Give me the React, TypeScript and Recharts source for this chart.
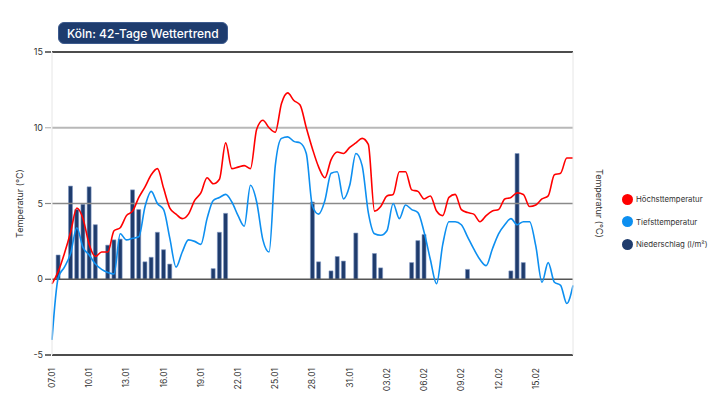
import { Bar, ComposedChart, Line, ReferenceLine, XAxis, YAxis } from "recharts"

// half-day slots, 07.01 00:00 .. 18.02 00:00
const tickSlots = [0, 6, 12, 18, 24, 30, 36, 42, 48, 54, 60, 66, 72, 78]
const tickDates = ["07.01", "10.01", "13.01", "16.01", "19.01", "22.01", "25.01", "28.01", "31.01", "03.02", "06.02", "09.02", "12.02", "15.02"]

const highTemp = [
  -0.3, 0.5, 1.7, 3.1, 4.7, 4.0, 2.3, 1.5, 1.8, 1.8,
  3.2, 3.4, 4.2, 4.5, 5.4, 6.1, 6.9, 7.3, 6.0, 4.7,
  4.3, 4.0, 4.3, 5.2, 5.7, 6.7, 6.3, 6.6, 9.0, 7.3,
  7.4, 7.5, 7.3, 9.9, 10.5, 10.0, 9.7, 11.6, 12.3, 11.8,
  11.5, 10.0, 8.6, 7.4, 6.7, 7.9, 8.4, 8.3, 8.7, 9.0,
  9.3, 8.9, 4.5, 4.8, 5.5, 5.6, 7.1, 7.1, 5.9, 5.8,
  5.3, 5.5, 4.5, 4.2, 5.4, 5.6, 4.6, 4.4, 4.3, 3.8,
  4.2, 4.5, 4.6, 5.3, 5.4, 5.7, 5.6, 4.8, 4.9, 5.3,
  5.5, 6.9, 7.0, 8.0, 8.0,
]

const lowTemp = [
  -4.0, 0.1, 0.8, 1.7, 3.4, 2.1, 1.6, 1.0, 0.65, 0.45,
  0.35, 3.0, 2.6, 2.7, 2.8, 4.8, 5.8, 5.0, 4.6, 2.7,
  0.8, 1.8, 2.6, 2.5, 2.3, 4.0, 5.2, 5.4, 5.6, 5.1,
  4.2, 3.5, 6.2, 5.1, 2.6, 1.8, 7.5, 9.3, 9.4, 9.1,
  9.0, 8.3, 4.8, 4.3, 5.2, 7.0, 7.1, 5.3, 6.2, 8.3,
  7.5, 4.4, 3.0, 2.9, 3.2, 5.0, 4.0, 4.9, 4.6, 4.4,
  3.1, 1.3, -0.3, 2.3, 3.8, 3.8, 3.6, 2.8, 2.0, 1.3,
  0.9, 2.0, 3.0, 3.6, 4.0, 3.6, 3.8, 3.8, 2.2, -0.2,
  1.1, -0.2, -0.4, -1.6, -0.4,
]

const rainSlots = [1, 3, 4, 5, 6, 7, 9, 10, 11, 13, 14, 15, 16, 17, 18, 19, 26, 27, 28, 42, 43, 45, 46, 47, 49, 52, 53, 58, 59, 60, 67, 74, 75, 76]
const rainAmounts = [1.6, 6.15, 4.6, 4.95, 6.1, 3.6, 2.25, 2.6, 2.65, 5.9, 4.6, 1.15, 1.45, 3.1, 1.95, 1.0, 0.7, 3.1, 4.35, 5.1, 1.15, 0.55, 1.5, 1.2, 3.05, 1.7, 0.75, 1.1, 2.55, 2.95, 0.65, 0.55, 8.3, 1.1]

const yTicks = [-5, 0, 5, 10, 15]

const data = highTemp.map((h, i) => {
  const r = rainSlots.indexOf(i)
  return { slot: i, high: h, low: lowTemp[i], rain: r >= 0 ? rainAmounts[r] : null }
})

const FONT = "Inter, 'DejaVu Sans', sans-serif"

const lineColor = (v: number) => {
  if (v === 10) return "#b8b8b8"
  if (v === 5) return "#8a8a8a"
  if (v === 0) return "#555"
  return "#111"
}

const YTick = ({ x, y, payload, side }: any) => {
  const v = payload.value
  const left = side === "left"
  const x0 = left ? x + 2 : x - 2
  const x1 = left ? x0 + 6 : x0 - 6
  return (
    <g>
      <line x1={x0} x2={x1} y1={y} y2={y} stroke={lineColor(v)} strokeWidth={1.2} />
      <text x={x} y={y} dy="0.35em" textAnchor={left ? "end" : "start"} fontSize={9} fill="#333" fontFamily={FONT}>
        {v}
      </text>
    </g>
  )
}

const XTick = ({ x, y, payload }: any) => {
  const idx = tickSlots.indexOf(payload.value)
  const ty = y + 5
  return (
    <text
      x={x}
      y={ty}
      dy="0.35em"
      textAnchor="end"
      transform={`rotate(-90, ${x}, ${ty})`}
      fontSize={8.5}
      fill="#333"
      fontFamily={FONT}
    >
      {tickDates[idx]}
    </text>
  )
}

const legendItems = [
  { label: "Höchsttemperatur", color: "#ff0000" },
  { label: "Tiefsttemperatur", color: "#0d8ff0" },
  { label: "Niederschlag (l/m²)", color: "#1f3c6d" },
]

export default function App() {
  return (
    <div
      style={{
        position: "absolute",
        left: 0,
        top: 0,
        width: 717,
        height: 403,
        overflow: "hidden",
        background: "#fff",
        fontFamily: FONT,
      }}
    >
      <ComposedChart width={717} height={403} data={data} margin={{ top: 52, right: 104, bottom: 0, left: 0 }}>
        <XAxis
          dataKey="slot"
          type="number"
          domain={[0, 84]}
          ticks={tickSlots}
          tick={<XTick />}
          tickLine={false}
          axisLine={{ stroke: "#111", strokeWidth: 1.5 }}
          height={48}
          interval={0}
        />
        <YAxis
          yAxisId="left"
          domain={[-5, 15]}
          ticks={yTicks}
          width={52}
          tickLine={false}
          tickSize={6}
          tickMargin={3}
          tick={<YTick side="left" />}
          axisLine={{ stroke: "#e6e6e6" }}
          label={{
            value: "Temperatur (°C)",
            angle: -90,
            position: "insideLeft",
            offset: 20,
            style: { textAnchor: "middle", fontSize: 9, fill: "#333", fontFamily: FONT },
          }}
        />
        <YAxis
          yAxisId="right"
          orientation="right"
          domain={[-5, 15]}
          ticks={yTicks}
          width={40}
          tickLine={false}
          tickSize={6}
          tickMargin={3}
          tick={<YTick side="right" />}
          axisLine={{ stroke: "#e6e6e6" }}
          label={{
            value: "Temperatur (°C)",
            angle: 90,
            position: "insideRight",
            offset: 14,
            style: { textAnchor: "middle", fontSize: 9, fill: "#333", fontFamily: FONT },
          }}
        />
        <ReferenceLine yAxisId="left" y={15} stroke="#111" strokeWidth={1.5} />
        <ReferenceLine yAxisId="left" y={10} stroke="#b8b8b8" strokeWidth={2} />
        <ReferenceLine yAxisId="left" y={5} stroke="#8a8a8a" strokeWidth={1.5} />
        <ReferenceLine yAxisId="left" y={0} stroke="#555" strokeWidth={1.5} />
        <Bar
          yAxisId="left"
          dataKey="rain"
          barSize={4}
          fill="#1f3c6d"
          stroke="#7f97c2"
          strokeWidth={0.6}
          isAnimationActive={false}
        />
        <Line
          yAxisId="left"
          dataKey="low"
          type="monotone"
          stroke="#0d8ff0"
          strokeWidth={1.6}
          dot={false}
          isAnimationActive={false}
        />
        <Line
          yAxisId="left"
          dataKey="high"
          type="monotone"
          stroke="#ff0000"
          strokeWidth={1.6}
          dot={false}
          isAnimationActive={false}
        />
      </ComposedChart>

      <div
        style={{
          position: "absolute",
          left: 58,
          top: 22,
          height: 22,
          padding: "0 8px",
          background: "#1e3c6e",
          border: "1px solid #3d5b8e",
          borderRadius: 6,
          color: "#fff",
          fontSize: 12,
          fontWeight: 500,
          lineHeight: "22px",
          whiteSpace: "nowrap",
          boxSizing: "border-box",
        }}
      >
        Köln: 42-Tage Wettertrend
      </div>

      <div style={{ position: "absolute", left: 622, top: 188 }}>
        {legendItems.map((item) => (
          <div key={item.label} style={{ display: "flex", alignItems: "center", height: 22.5, whiteSpace: "nowrap" }}>
            <span
              style={{
                width: 11,
                height: 11,
                borderRadius: "50%",
                background: item.color,
                display: "inline-block",
                marginRight: 3,
              }}
            />
            <span style={{ fontSize: 7.8, color: "#333" }}>{item.label}</span>
          </div>
        ))}
      </div>
    </div>
  )
}
